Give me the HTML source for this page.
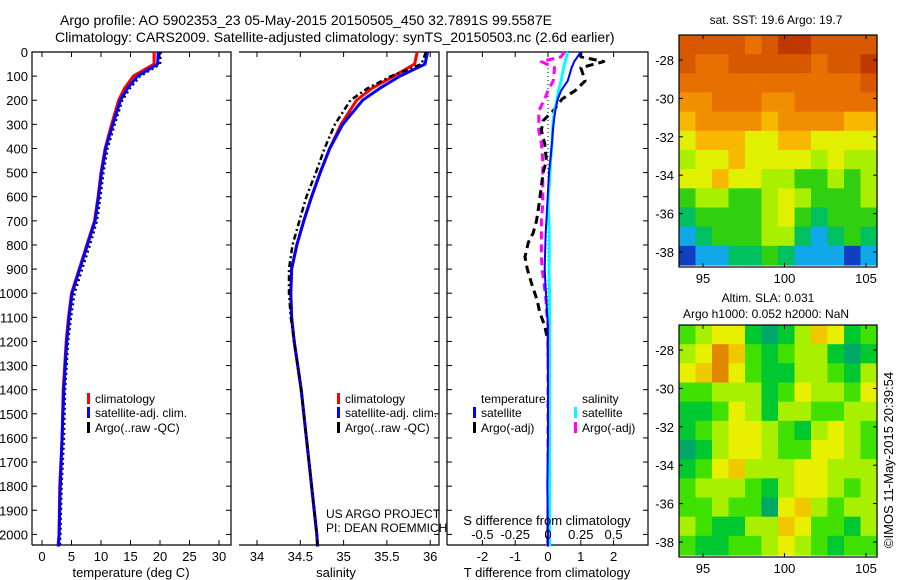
<!DOCTYPE html>
<html><head><meta charset="utf-8"><style>
body{margin:0;background:#fff;}
svg{display:block;font-family:"Liberation Sans",sans-serif;}
</style></head><body>
<svg id="fig" width="900" height="580" viewBox="0 0 900 580">
<text x="60" y="25" font-size="14">Argo profile: AO 5902353_23 05-May-2015 20150505_450 32.7891S 99.5587E</text>
<text x="55" y="42" font-size="14">Climatology: CARS2009. Satellite-adjusted climatology: synTS_20150503.nc (2.6d earlier)</text>
<g id="g"></g>
</svg>
<script>
// ---- profile data ----
const depths   = [0, 50, 100, 150, 200, 300, 400, 500, 600, 700, 800, 900, 1000, 1100, 1200, 1400, 1600, 1800, 2000, 2050];
const tempClim = [19.0, 19.0, 15.5, 14.0, 13.0, 11.8, 10.7, 10.0, 9.5, 8.9, 7.6, 6.3, 5.0, 4.5, 4.1, 3.6, 3.4, 3.0, 2.9, 2.7];
const tempSat  = [19.7, 19.6, 16.2, 14.5, 13.3, 12.0, 10.8, 10.1, 9.6, 9.0, 7.7, 6.4, 5.1, 4.6, 4.2, 3.7, 3.4, 3.1, 2.9, 2.8];
const tempArgo = [19.9, 19.8, 16.4, 14.7, 13.4, 12.1, 10.9, 10.2, 9.7, 9.1, 7.9, 6.6, 5.3, 4.7, 4.2, 3.7, 3.5, 3.1, 2.9, 2.8];
const salClim  = [35.85, 35.82, 35.58, 35.33, 35.15, 34.97, 34.84, 34.73, 34.63, 34.54, 34.46, 34.40, 34.39, 34.40, 34.43, 34.51, 34.57, 34.63, 34.69, 34.70];
const salSat   = [35.97, 35.94, 35.65, 35.42, 35.22, 34.99, 34.84, 34.73, 34.63, 34.54, 34.46, 34.40, 34.39, 34.40, 34.43, 34.51, 34.57, 34.63, 34.69, 34.70];
const salArgo  = [35.95, 35.90, 35.55, 35.28, 35.08, 34.90, 34.78, 34.68, 34.57, 34.49, 34.41, 34.37, 34.37, 34.39, 34.43, 34.51, 34.57, 34.63, 34.69, 34.70];
// ---- difference data ----
const diffDepths = [0, 20, 40, 65, 120, 160, 195, 245, 285, 325, 380, 450, 500, 630, 700, 750, 790, 850, 900, 960, 1030, 1080, 1135, 1200, 1400, 1600, 1800, 2000, 2050];
const dTSat  = [1.0, 0.9, 0.8, 0.72, 0.6, 0.4, 0.3, 0.22, 0.18, 0.15, 0.12, 0.07, 0.03, -0.02, -0.05, -0.07, -0.08, -0.09, -0.1, -0.08, -0.05, -0.03, 0.0, 0.0, 0.0, 0.0, -0.02, 0.0, 0.0];
const dTArgo = [1.0, 1.0, 1.7, 1.0, 1.13, 0.83, 0.43, 0.15, -0.15, -0.2, -0.1, -0.05, -0.15, -0.27, -0.35, -0.45, -0.6, -0.7, -0.63, -0.5, -0.33, -0.25, -0.1, 0.0, 0.02, 0.02, 0.0, 0.0, 0.0];
const dSSat  = [0.15, 0.14, 0.13, 0.12, 0.1, 0.08, 0.07, 0.05, 0.04, 0.035, 0.03, 0.02, 0.015, 0.0, 0.008, 0.01, 0.01, 0.01, 0.008, 0.01, 0.012, 0.012, 0.012, 0.012, 0.012, 0.012, 0.012, 0.012, 0.012];
const dSArgo = [0.125, 0.1, -0.05, 0.05, 0.04, 0.0, -0.025, -0.07, -0.07, -0.07, -0.05, -0.04, -0.04, -0.04, -0.05, -0.05, -0.05, -0.05, -0.045, -0.03, -0.015, -0.01, 0.0, 0.0, 0.0, 0.0, 0.0, 0.0, 0.0];
const depthTicks = [0,100,200,300,400,500,600,700,800,900,1000,1100,1200,1300,1400,1500,1600,1700,1800,1900,2000];
const tempTicks = [0,5,10,15,20,25,30];
const salTicks = [34,34.5,35,35.5,36];
const dTTicks = [-2,-1,0,1,2];
const dSTicks = [-0.5,-0.25,0,0.25,0.5];
// ---- map data (levels) ----
const lonTicks = [95,100,105];
const latTicks = [-28,-30,-32,-34,-36,-38];
const sstGrid = [
[9,9,9,9,8,9,10,10,9,9,9,9],
[9,8,8,9,9,9,9,9,8,9,9,10],
[8,8,8,8,8,8,8,8,8,8,8,9],
[7,7,8,8,8,7,7,8,8,8,8,8],
[6,7,7,7,7,6,7,7,7,7,6,6],
[5,6,6,6,5,5,6,6,5,5,5,5],
[4,5,5,6,5,5,5,5,4,5,4,4],
[5,5,6,5,5,4,4,3,3,4,3,4],
[3,4,4,3,3,4,5,4,3,3,3,4],
[2,3,3,3,3,4,5,3,2,3,3,3],
[1,2,3,3,3,4,4,2,1,2,3,2],
[0,1,1,2,2,3,2,1,1,1,0,1]];
const slaGrid = [
[2,3,4,4,1,0,1,3,5,4,1,2],
[3,4,6,5,2,1,2,3,3,1,0,1],
[4,5,6,4,2,1,1,3,3,2,1,3],
[2,2,3,3,3,1,2,4,3,3,2,4],
[1,1,2,4,3,1,3,3,2,2,3,3],
[1,2,3,4,4,3,2,1,3,4,3,2],
[0,1,3,4,4,3,2,2,4,4,3,2],
[1,2,4,5,3,3,3,4,4,3,3,3],
[2,3,3,3,2,1,3,4,4,3,2,3],
[2,2,3,2,2,0,4,5,3,2,3,3],
[3,2,1,1,3,3,5,4,2,2,1,3],
[2,1,1,2,2,3,4,3,2,1,2,2]];
const sstColors = ['#1040c0','#10a8e8','#00c060','#30d010','#a8f000','#e0f000','#f8b800','#f09000','#e87000','#d85800','#c03800'];
const slaColors = ['#00a868','#00c830','#40e000','#a8f000','#e8f000','#f0c800','#e08800'];

const NS='http://www.w3.org/2000/svg';
const G=document.getElementById('g');
function mk(tag,attrs,parent,text){const e=document.createElementNS(NS,tag);for(const k in attrs)e.setAttribute(k,attrs[k]);if(text!==undefined)e.textContent=text;(parent||G).appendChild(e);return e;}
const Y0=52, YB=545, KY=0.2412;
const yD=d=>Y0+d*KY;
const xT=t=>42+t*5.9;
const xS=s=>257+(s-34)*86.6;
const xDT=v=>548+v*32.8;
const xDS=v=>548+v*4*32.8;

function frame(x0,x1,name,noLeft){
  const pts=noLeft?`${x0},${Y0} ${x1},${Y0} ${x1},${YB} ${x0},${YB}`:`${x0},${YB} ${x0},${Y0} ${x1},${Y0} ${x1},${YB} ${x0},${YB}`;
  const r=mk('polyline',{points:pts,fill:'none',stroke:'#000','stroke-width':1.2});
  
  
  depthTicks.forEach(d=>{
    if(!noLeft)mk('line',{x1:x0,x2:x0+5,y1:yD(d),y2:yD(d),stroke:'#000'});
    mk('line',{x1:x1-5,x2:x1,y1:yD(d),y2:yD(d),stroke:'#000'});
  });
}
function xticks(vals,fx,labelFn,name){
  vals.forEach(v=>{
    const x=fx(v);
    mk('line',{x1:x,x2:x,y1:Y0,y2:Y0+5,stroke:'#000'});
    mk('line',{x1:x,x2:x,y1:YB-5,y2:YB,stroke:'#000'});
    const t=mk('text',{x:x,y:561,'font-size':13,'text-anchor':'middle'},G,labelFn(v));
    
    
  });
}
function line(xs,ds,fx,color,w,dash,name){
  const p=xs.map((v,i)=>fx(v).toFixed(1)+','+yD(ds[i]).toFixed(1)).join(' ');
  const a={points:p,fill:'none',stroke:color,'stroke-width':w,'stroke-linejoin':'round'};
  if(dash)a['stroke-dasharray']=dash;
  const e=mk('polyline',a);
  
  
}
// depth labels
depthTicks.forEach(d=>{
  const t=mk('text',{x:28,y:yD(d)+5,'font-size':13,'text-anchor':'end'},G,String(d));
  
  
});
// Panel 1
frame(32,231,'temperature-panel');
xticks(tempTicks,xT,v=>String(v),'temperature-tick-label');
line(tempArgo,depths,v=>xT(v)+1,'#000',3,'2,3','temp-argo-line');
line(tempClim,depths,xT,'#f00',3,null,'temp-climatology-line');
line(tempSat,depths,xT,'#00f',3,null,'temp-satellite-line');
// Panel 2
frame(239,439,'salinity-panel',true);
xticks(salTicks,xS,v=>String(v),'salinity-tick-label');
line(salClim,depths,xS,'#f00',3,null,'sal-climatology-line');
line(salSat,depths,xS,'#00f',3,null,'sal-satellite-line');
line(salArgo,depths,xS,'#000',2.5,'6,3,2,3','sal-argo-line');
// Panel 3
frame(447,648,'difference-panel');
xticks(dTTicks,xDT,v=>String(v),'t-diff-tick-label');
mk('line',{x1:548,x2:548,y1:Y0,y2:YB,stroke:'#000','stroke-dasharray':'1,3'});
line(dSArgo,diffDepths,xDS,'#f0f',3,'8,5','s-diff-argo-line');
line(dTArgo,diffDepths,xDT,'#000',3,'8,5','t-diff-argo-line');
line(dSSat,diffDepths,xDS,'#0ff',3,null,'s-diff-satellite-line');
line(dTSat,diffDepths,xDT,'#00f',2,null,'t-diff-satellite-line');
dSTicks.forEach(v=>{
  const t=mk('text',{x:xDS(v),y:539,'font-size':13,'text-anchor':'middle'},G,String(v));
  
  
});
// axis titles
[[131,577,'temperature (deg C)','temperature-axis-title'],[336,577,'salinity','salinity-axis-title'],[547,577,'T difference from climatology','t-diff-axis-title'],[547,525,'S difference from climatology','s-diff-axis-title']].forEach(a=>{
  const t=mk('text',{x:a[0],y:a[1],'font-size':13,'text-anchor':'middle'},G,a[2]);
  
  
});
// legends
function leg(x,y,color,label,name){
  const r=mk('rect',{x:x,y:y-10,width:3,height:11,fill:color});
  
  
  const t=mk('text',{x:x+8,y:y,'font-size':12},G,label);
  
  
}
leg(87,403,'#f00','climatology','legend-climatology');
leg(87,417,'#00f','satellite-adj. clim.','legend-satellite');
leg(87,432,'#000','Argo(..raw -QC)','legend-argo');
leg(337,403,'#f00','climatology','legend-climatology-2');
leg(337,417,'#00f','satellite-adj. clim.','legend-satellite-2');
leg(337,432,'#000','Argo(..raw -QC)','legend-argo-2');
const tt=mk('text',{x:481,y:403,'font-size':12},G,'temperature');


const st=mk('text',{x:582,y:403,'font-size':12},G,'salinity');


leg(473,417,'#00f','satellite','legend-t-satellite');
leg(473,432,'#000','Argo(-adj)','legend-t-argo');
leg(574,417,'#0ff','satellite','legend-s-satellite');
leg(574,432,'#f0f','Argo(-adj)','legend-s-argo');
[[326,518,'US ARGO PROJECT','project-label'],[326,532,'PI: DEAN ROEMMICH','pi-label']].forEach(a=>{
  const t=mk('text',{x:a[0],y:a[1],'font-size':12},G,a[2]);
  
  
});
// maps
function map(grid,colors,top,bot,dataBot,name,latTop){
  const x0=679,x1=877,nr=grid.length,nc=grid[0].length;
  const cw=(x1-x0)/nc, ch=(dataBot-top)/nr;
  grid.forEach((row,i)=>row.forEach((v,j)=>{
    const c=mk('rect',{x:x0+j*cw,y:top+i*ch,width:cw+0.6,height:ch+0.6,fill:colors[v]});
    
    
  }));
  const f=mk('rect',{x:x0,y:top,width:x1-x0,height:bot-top,fill:'none',stroke:'#000','stroke-width':1.2});
  
  
  const lx=v=>703+(v-95)*16.3;
  lonTicks.forEach(v=>{
    mk('line',{x1:lx(v),x2:lx(v),y1:top,y2:top+4,stroke:'#000'});
    mk('line',{x1:lx(v),x2:lx(v),y1:bot-4,y2:bot,stroke:'#000'});
    const t=mk('text',{x:lx(v),y:bot+16,'font-size':13,'text-anchor':'middle'},G,String(v));
    
    
  });
  const ly=v=>latTop+(-28-v)*19.2;
  latTicks.forEach(v=>{
    mk('line',{x1:x0,x2:x0+4,y1:ly(v),y2:ly(v),stroke:'#000'});
    mk('line',{x1:x1-4,x2:x1,y1:ly(v),y2:ly(v),stroke:'#000'});
    const t=mk('text',{x:674,y:ly(v)+5,'font-size':13,'text-anchor':'end'},G,String(v));
    
    
  });
}
map(sstGrid,sstColors,35,267,265,'sst-map',60);
map(slaGrid,slaColors,325,557,555,'sla-map',350);
[[776,24,'sat. SST: 19.6 Argo: 19.7','sst-map-title'],[768,302,'Altim. SLA: 0.031','sla-map-title'],[766,318,'Argo h1000: 0.052 h2000: NaN','sla-map-subtitle']].forEach(a=>{
  const t=mk('text',{x:a[0],y:a[1],'font-size':12,'text-anchor':'middle'},G,a[2]);
  
  
});
const cp=mk('text',{x:0,y:0,'font-size':13,'text-anchor':'middle',transform:'translate(893,460) rotate(-90)'},G,'©IMOS 11-May-2015 20:39:54');


</script>
</body></html>
